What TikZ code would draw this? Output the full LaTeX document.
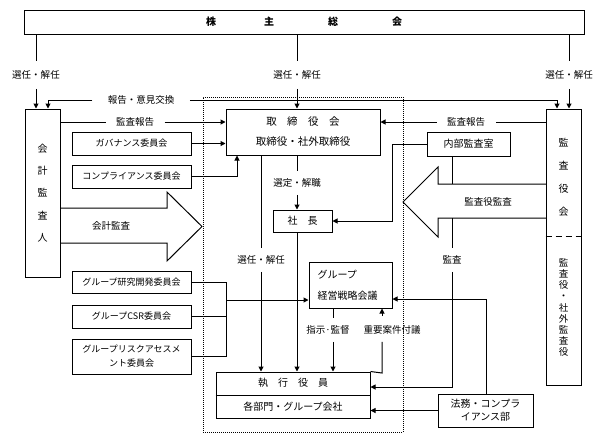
\documentclass[tikz,border=0pt]{standalone}
\usepackage{fontspec}
\setmainfont{Noto Sans CJK JP}
\usetikzlibrary{arrows.meta,calc}
\begin{document}
\begin{tikzpicture}[x=1pt,y=-1pt, line width=1pt,
  box/.style={draw, rectangle, inner sep=0pt, font=\fontsize{10}{12}\selectfont},
  cbox/.style={draw, rectangle, inner sep=0pt, font=\fontsize{9}{12}\selectfont, minimum width=119pt, align=center},
  lbl/.style={inner sep=0pt, font=\fontsize{9.5}{11}\selectfont},
  vlbl/.style={inner xsep=1pt, inner ysep=7pt, font=\fontsize{9.5}{11}\selectfont},
  tlbl/.style={inner xsep=1pt, inner ysep=9pt, font=\fontsize{9.5}{11}\selectfont},
  hlbl/.style={inner xsep=10pt, inner ysep=1pt, font=\fontsize{9.5}{11}\selectfont},
  arr/.style={-{Triangle[length=5pt,width=5pt]}},
  bigarrow/.style={line join=miter},
]
\useasboundingbox (0,0) rectangle (604,437);

% dotted frame
\node[draw, dash pattern=on 1pt off 1pt, minimum width=200pt, minimum height=335pt, inner sep=0pt] (frame) at (303,264.5) {};

% boxes
\node[box, minimum width=560pt, minimum height=24pt, font=\fontsize{10}{12}\selectfont\bfseries] (sh) at (304,22) {株\hspace{48pt}主\hspace{54pt}総\hspace{54pt}会};
\node[box, minimum width=35pt, minimum height=168pt, align=center, font=\fontsize{10}{22.3}\selectfont] (kaikei) at (42.5,193) {会\\計\\監\\査\\人};
\node[box, minimum width=35pt, minimum height=276pt] (kansa) at (563.5,247) {};
\draw[dash pattern=on 6pt off 4pt] (kansa.west |- 0,236) -- (kansa.east |- 0,236);
\node[lbl, align=center, font=\fontsize{10}{23}\selectfont] (kansaA) at (563.5,177.5) {監\\査\\役\\会};
\node[lbl, align=center, font=\fontsize{9.5}{11.1}\selectfont] (kansaB) at (563.5,307.5) {監\\査\\役\\・\\社\\外\\監\\査\\役};

\node[box, minimum width=154pt, minimum height=46pt, align=center, font=\fontsize{10.5}{20}\selectfont] (tori) at (303,132) {取\hspace{1em}締\hspace{1em}役\hspace{1em}会\\取締役・社外取締役};

\node[cbox, minimum height=23pt] (gov) at (131.5,143.5) {ガバナンス委員会};
\node[cbox, minimum height=23pt] (comp) at (131.5,176.5) {コンプライアンス委員会};
\node[cbox, minimum height=22pt] (rd) at (131.5,282) {グループ研究開発委員会};
\node[cbox, minimum height=23pt] (csr) at (131.5,316.5) {グループCSR委員会};
\node[cbox, minimum height=35pt, font=\fontsize{9}{14}\selectfont] (risk) at (131.5,356.5) {グループリスクアセスメ\\ント委員会};

\node[box, minimum width=83pt, minimum height=24pt] (naibu) at (468.5,144) {内部監査室};
\node[box, minimum width=59pt, minimum height=22pt] (shacho) at (302.5,221) {社\hspace{1em}長};
\node[box, minimum width=83pt, minimum height=46pt, align=left, text width=66pt, font=\fontsize{10}{21}\selectfont] (group) at (350.5,285) {グループ\\経営戦略会議};
\node[box, minimum width=154pt, minimum height=46pt, align=center, font=\fontsize{10}{24}\selectfont] (shikko) at (293,395) {執\hspace{1em}行\hspace{1em}役\hspace{1em}員\\各部門・グループ会社};
\draw (shikko.west) -- (shikko.east);
\node[box, minimum width=95pt, minimum height=33pt, align=center, font=\fontsize{10}{13}\selectfont] (homu) at (485.5,410.5) {法務・コンプラ\\イアンス部};

% shareholder lines
\node[tlbl] (l1) at (36,75) {選任・解任};
\node[tlbl] (l2) at (297,75) {選任・解任};
\node[tlbl] (l3) at (569,75) {選任・解任};
\draw (sh.south -| l1) -- (l1);
\draw[arr] (l1) -- (kaikei.north -| l1);
\draw (sh.south -| l2) -- (l2);
\draw[arr] (l2) -- (tori.north -| l2);
\draw (sh.south -| l3) -- (l3);
\draw[arr] (l3) -- (kansa.north -| l3);

% report / exchange
\node[hlbl, inner xsep=15pt] (l4) at (141,100) {報告・意見交換};
\draw[arr] (l4.west) -| ([xshift=5.5pt]kaikei.north);
\draw[arr] (l4.east) -| ([xshift=-6.5pt]kansa.north);

% audit reports
\node[hlbl] (l5) at (135,122) {監査報告};
\draw (kaikei.east |- l5) -- (l5);
\draw[arr] (l5) -- (tori.west |- l5);
\node[hlbl] (l6) at (466,122) {監査報告};
\draw (kansa.west |- l6) -- (l6);
\draw[arr] (l6) -- (tori.east |- l6);

% committees to board
\draw[arr] (gov.east) -- (gov.east -| tori.west);
\draw[arr] (comp.east) -| ([xshift=-66pt]tori.south);

% big arrows
\draw[bigarrow] (60,208) -- (167,208) -- (167,192) -- (202,226.5) -- (167,261) -- (167,243) -- (60,243);
\node[lbl] (t1) at (111,226) {会計監査};
\draw[bigarrow] (546,184) -- (438,184) -- (438,167) -- (403,202) -- (438,237) -- (438,218) -- (546,218);
\node[lbl] (t2) at (488,202) {監査役監査};

% internal audit
\coordinate (n1) at (392,221);
\draw[arr] (naibu.west) -| (n1) -- (shacho.east);
\coordinate (m0) at (452,184);
\coordinate (m1) at (452,218);
\coordinate (m2) at (452,387);
\draw (naibu.south -| m0) -- (m0);
\node[vlbl] (l7) at (452,260) {監査};
\draw (m1) -- (l7);
\draw[arr] (l7) -- (m2) -- (m2 -| shikko.east);

% board to president
\node[vlbl] (l8) at (297,183) {選定・解職};
\draw (tori.south -| l8) -- (l8);
\draw[arr] (l8) -- (shacho.north -| l8);
\draw[arr] (shacho.south -| l8) -- (shikko.north -| l8);

\node[vlbl] (l9) at (261,260) {選任・解任};
\draw (tori.south -| l9) -- (l9);
\draw[arr] (l9) -- (shikko.north -| l9);

% group strategy
\coordinate (g1) at (333,330);
\node[vlbl] (l10) at (328,330) {指示·監督};
\draw (group.south -| g1) -- (l10.north -| g1);
\draw[arr] (l10.south -| g1) -- (shikko.north -| g1);
\coordinate (g2) at (382,373);
\node[vlbl] (l11) at (392,330) {重要案件付議};
\draw (shikko.north east) -- (g2) -- (l11.south -| g2);
\draw[arr] ([yshift=2pt]l11.north -| g2) -- (group.south -| g2);

\coordinate (j1) at (226,300);
\draw (rd.east) -| (j1 |- risk.east) -- (risk.east);
\draw (csr.east) -- (csr.east -| j1);
\draw[arr] (j1) -- (j1 -| group.west);

% legal
\draw[arr] (homu.west) -- (homu.west -| shikko.east);
\coordinate (h1) at (486,299);
\draw[arr] (homu.north -| h1) -- (h1) -- (h1 -| group.east);
\end{tikzpicture}
\end{document}
